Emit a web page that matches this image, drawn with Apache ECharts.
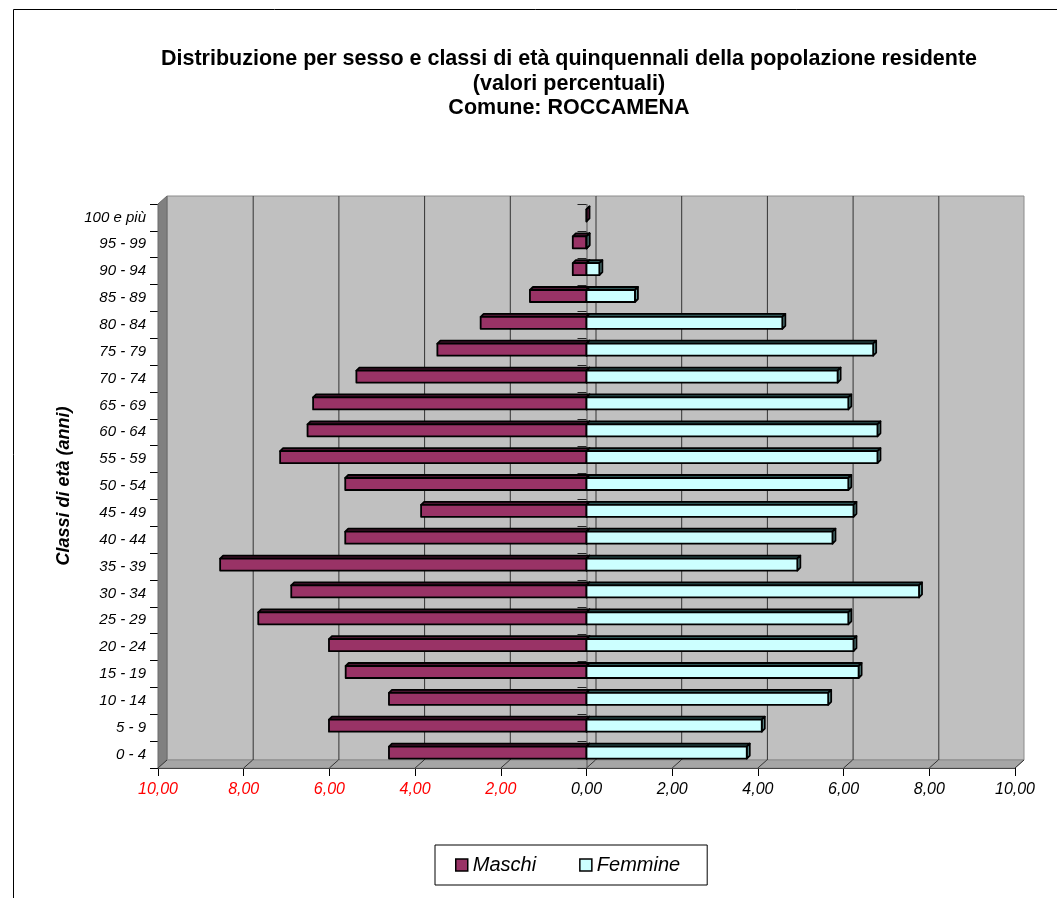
<!DOCTYPE html>
<html>
<head>
<meta charset="utf-8">
<script src="https://cdn.jsdelivr.net/npm/echarts@6/dist/echarts.min.js"></script>
<style>
html,body{margin:0;padding:0;background:#fff;}
#chart{width:1057px;height:898px;}
</style>
</head>
<body>
<div id="chart"></div>
<script>
// Categories bottom -> top
const categories = ['0 - 4','5 - 9','10 - 14','15 - 19','20 - 24','25 - 29','30 - 34','35 - 39','40 - 44','45 - 49','50 - 54','55 - 59','60 - 64','65 - 69','70 - 74','75 - 79','80 - 84','85 - 89','90 - 94','95 - 99','100 e più'];
const maschi  = [4.61, 6.01, 4.61, 5.62, 6.01, 7.66, 6.89, 8.55, 5.63, 3.86, 5.63, 7.15, 6.51, 6.38, 5.37, 3.48, 2.47, 1.32, 0.32, 0.32, 0];
const femmine = [3.74, 4.09, 5.64, 6.35, 6.23, 6.11, 7.76, 4.92, 5.74, 6.23, 6.11, 6.79, 6.79, 6.11, 5.86, 6.69, 4.57, 1.13, 0.30, 0, null];
const xTicks = [-10, -8, -6, -4, -2, 0, 2, 4, 6, 8, 10];

const FONT = '"Liberation Sans", Arial, sans-serif';
const DX = 9, DY = -8;   // wall depth offset
const BD = 3;            // bar bevel depth

const chart = echarts.init(document.getElementById('chart'), null, {renderer: 'canvas'});

function frameRender(params, api) {
  const n = categories.length;
  const band = api.size([0, 1])[1];
  const L = api.coord([-10, 0])[0], R = api.coord([10, 0])[0];
  const B = api.coord([0, 0])[1] + band / 2;
  const T = api.coord([0, n - 1])[1] - band / 2;
  const children = [];
  children.push({type: 'rect', shape: {x: L + DX, y: T + DY, width: R - L, height: B - T},
    style: {fill: '#C0C0C0', stroke: '#8C8C8C', lineWidth: 1}});
  children.push({type: 'polygon', shape: {points: [[L, T], [L + DX, T + DY], [L + DX, B + DY], [L, B]]},
    style: {fill: '#808080', stroke: '#6a6a6a', lineWidth: 1}});
  children.push({type: 'polygon', shape: {points: [[L, B], [L + DX, B + DY], [R + DX, B + DY], [R, B]]},
    style: {fill: '#A6A6A6', stroke: '#8C8C8C', lineWidth: 1}});
  xTicks.forEach(function (t) {
    const x = api.coord([t, 0])[0];
    if (t > -10 && t < 10) {
      children.push({type: 'line', shape: {x1: x + DX + 0.5, y1: T + DY, x2: x + DX + 0.5, y2: B + DY},
        style: {stroke: '#333', lineWidth: 1}});
    }
    children.push({type: 'line', shape: {x1: x, y1: B, x2: x + DX, y2: B + DY},
      style: {stroke: '#333', lineWidth: 1}});
  });
  const x0 = api.coord([0, 0])[0];
  children.push({type: 'line', shape: {x1: x0 + 0.5, y1: T, x2: x0 + 0.5, y2: B},
    style: {stroke: '#555', lineWidth: 1}});
  for (let i = 0; i <= n; i++) {
    const y = Math.round(B - i * band) + 0.5;
    children.push({type: 'line', shape: {x1: x0 - 9, y1: y, x2: x0, y2: y},
      style: {stroke: '#222', lineWidth: 1}});
  }
  return {type: 'group', children: children};
}

function barRender(isMale, front, top, side) {
  return function (params, api) {
    const i = api.value(0);
    const v = api.value(1);
    if (v == null || isNaN(v)) return null;
    const cy = api.coord([0, i])[1];
    const yT = cy - 8, yB = cy + 4;
    let x1, x2;
    if (isMale) { x1 = api.coord([-v, i])[0]; x2 = api.coord([0, i])[0]; }
    else { x1 = api.coord([0, i])[0]; x2 = api.coord([v, i])[0]; }
    const stroke = {stroke: '#000', lineWidth: 1.8, lineJoin: 'round'};
    return {type: 'group', children: [
      {type: 'polygon', shape: {points: [[x1, yT], [x1 + BD, yT - BD], [x2 + BD, yT - BD], [x2, yT]]},
        style: Object.assign({fill: top}, stroke)},
      {type: 'polygon', shape: {points: [[x2, yT], [x2 + BD, yT - BD], [x2 + BD, yB - BD], [x2, yB]]},
        style: Object.assign({fill: side}, stroke)},
      {type: 'rect', shape: {x: x1, y: yT, width: x2 - x1, height: yB - yT},
        style: Object.assign({fill: front}, stroke)}
    ]};
  };
}

const maleData = maschi.map(function (v, i) { return [i, v]; });
const femaleData = femmine.map(function (v, i) { return [i, v]; });

function fmt(v) { return Math.abs(v).toFixed(2).replace('.', ','); }

chart.setOption({
  backgroundColor: '#ffffff',
  animation: false,
  title: {
    text: 'Distribuzione per sesso e classi di età quinquennali della popolazione residente\n(valori percentuali)\nComune: ROCCAMENA',
    left: 564, top: 42, textAlign: 'center',
    textStyle: {fontFamily: FONT, fontWeight: 'bold', fontSize: 21.5, lineHeight: 24.5, color: '#000'}
  },
  graphic: [{type: 'rect', shape: {x: 13.5, y: 9.5, width: 1100, height: 1000},
    style: {fill: 'none', stroke: '#000', lineWidth: 1}, silent: true}],
  legend: {
    data: ['Maschi', 'Femmine'],
    left: 435, top: 845,
    padding: [10, 27, 10, 20],
    itemGap: 43, itemWidth: 12, itemHeight: 12,
    borderColor: '#000', borderWidth: 1,
    icon: 'rect',
    itemStyle: {borderColor: '#000', borderWidth: 1.5},
    textStyle: {fontFamily: FONT, fontStyle: 'italic', fontSize: 20, color: '#000'}
  },
  grid: {left: 158, right: 42, top: 204, bottom: 130, containLabel: false},
  xAxis: {
    type: 'value', min: -10, max: 10, interval: 2,
    axisLine: {show: true, onZero: false, lineStyle: {color: '#000', width: 1}},
    axisTick: {show: true, length: 8, lineStyle: {color: '#000'}},
    splitLine: {show: false},
    axisLabel: {
      margin: 14, fontFamily: FONT, fontStyle: 'italic', fontSize: 16,
      formatter: fmt,
      color: function (v) { return Number(v) < 0 ? '#FF0000' : '#000000'; }
    }
  },
  yAxis: {
    type: 'category', data: categories,
    name: 'Classi di età (anni)', nameLocation: 'middle', nameGap: 83,
    nameTextStyle: {fontFamily: FONT, fontWeight: 'bold', fontStyle: 'italic', fontSize: 18, color: '#000'},
    axisLine: {show: true, onZero: false, lineStyle: {color: '#000', width: 1}},
    axisTick: {show: true, length: 8, lineStyle: {color: '#000'}},
    axisLabel: {margin: 12, fontFamily: FONT, fontStyle: 'italic', fontSize: 15, color: '#000'},
    splitLine: {show: false}
  },
  series: [
    {type: 'custom', name: 'frame', renderItem: frameRender, data: [[0, 0]], z: 1, silent: true,
      encode: {x: 1, y: 0}},
    {type: 'custom', name: 'Maschi', renderItem: barRender(true, '#993366', '#4A1530', '#6E2349'),
      data: maleData, encode: {x: 1, y: 0}, z: 3,
      itemStyle: {color: '#993366', borderColor: '#000', borderWidth: 1.5}},
    {type: 'custom', name: 'Femmine', renderItem: barRender(false, '#CCFFFF', '#2E5555', '#669999'),
      data: femaleData, encode: {x: 1, y: 0}, z: 4,
      itemStyle: {color: '#CCFFFF', borderColor: '#000', borderWidth: 1.5}}
  ]
});
</script>
</body>
</html>
